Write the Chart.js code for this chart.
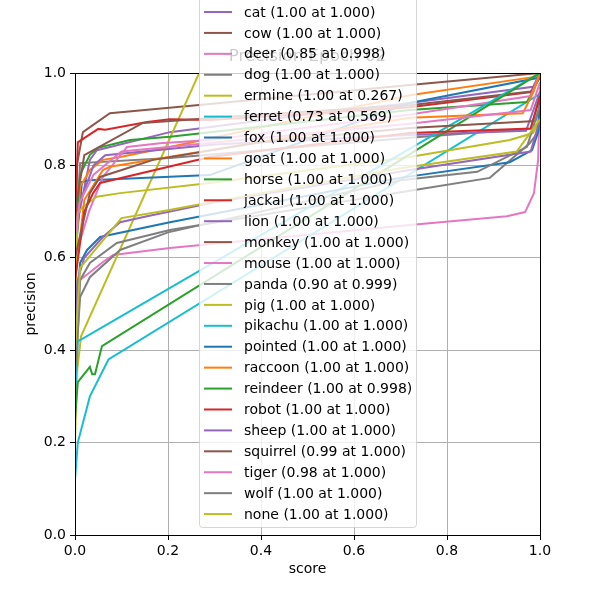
<!DOCTYPE html>
<html>
<head>
<meta charset="utf-8">
<script src="https://cdn.jsdelivr.net/npm/chart.js@4/dist/chart.umd.min.js"></script>
<style>
  body { margin: 0; background: #fff; }
  #graph-canvas { display: block; }
</style>
</head>
<body>
<canvas id="graph-canvas" width="600" height="600"></canvas>
<script>
// precision vs score curves, one [score, precision] list per class
const cat      = [[0, 0.65], [0.032, 0.812], [0.047, 0.833], [0.069, 0.838], [0.204, 0.872], [0.5, 0.91], [0.72, 0.935], [0.985, 0.97], [1.0, 1.0]];
const cow      = [[0, 0.6], [0.004, 0.8], [0.017, 0.872], [0.075, 0.913], [0.29, 0.933], [0.72, 0.974], [1.0, 1.0]];
const deer     = [[0, 0.5], [0.011, 0.552], [0.06, 0.591], [0.082, 0.606], [0.204, 0.621], [0.72, 0.671], [0.929, 0.69], [0.968, 0.699], [0.987, 0.74], [0.996, 0.812], [1.0, 0.97]];
const dog      = [[0, 0.62], [0.011, 0.805], [0.204, 0.816], [0.72, 0.86], [0.98, 0.88], [1.0, 0.95]];
const ermine   = [[0, 0.2], [0.004, 0.35], [0.013, 0.43], [0.267, 1.0]];
const ferret   = [[0, 0.12], [0.006, 0.2], [0.032, 0.3], [0.072, 0.38], [1.0, 0.955]];
const fox      = [[0, 0.6], [0.015, 0.764], [0.032, 0.768], [0.29, 0.779], [0.72, 0.935], [0.994, 0.989], [1.0, 1.0]];
const goat     = [[0, 0.6], [0.011, 0.753], [0.032, 0.79], [0.06, 0.812], [0.097, 0.818], [0.204, 0.84], [0.72, 0.952], [0.985, 0.991], [1.0, 1.0]];
const horse    = [[0, 0.65], [0.011, 0.78], [0.032, 0.823], [0.049, 0.838], [0.118, 0.855], [0.204, 0.862], [0.72, 0.92], [0.972, 0.937], [0.996, 0.985], [1.0, 1.0]];
const jackal   = [[0, 0.65], [0.006, 0.85], [0.05, 0.879], [0.065, 0.877], [0.155, 0.894], [0.204, 0.9], [0.29, 0.898], [0.72, 0.926], [0.985, 0.959], [1.0, 1.0]];
const lion     = [[0, 0.62], [0.011, 0.72], [0.04, 0.8], [0.065, 0.822], [0.3, 0.845], [0.72, 0.866], [0.97, 0.875], [1.0, 0.96]];
const monkey   = [[0, 0.7], [0.02, 0.822], [0.146, 0.892], [0.4, 0.91], [0.72, 0.93], [0.98, 0.96], [1.0, 0.99]];
const mouse    = [[0, 0.6], [0.03, 0.7], [0.06, 0.775], [0.112, 0.84], [0.183, 0.848], [0.29, 0.855], [0.72, 0.91], [0.98, 0.95], [1.0, 1.0]];
const panda    = [[0, 0.3], [0.011, 0.552], [0.032, 0.589], [0.09, 0.632], [0.204, 0.66], [0.7, 0.742], [0.892, 0.773], [0.978, 0.848], [0.996, 0.872], [1.0, 0.9]];
const pig      = [[0, 0.5], [0.006, 0.697], [0.017, 0.71], [0.047, 0.732], [0.097, 0.74], [0.29, 0.762], [0.72, 0.818], [0.935, 0.855], [0.985, 0.87], [0.996, 0.892], [1.0, 0.95]];
const pikachu  = [[0, 0.3], [0.006, 0.42], [0.011, 0.422], [1.0, 1.0]];
const pointed  = [[0, 0.45], [0.011, 0.589], [0.026, 0.617], [0.054, 0.645], [0.204, 0.677], [0.699, 0.773], [0.935, 0.807], [0.983, 0.833], [0.996, 0.872], [1.0, 0.95]];
const raccoon  = [[0, 0.55], [0.02, 0.725], [0.06, 0.79], [0.075, 0.797], [0.29, 0.833], [0.72, 0.903], [0.963, 0.913], [0.985, 0.957], [1.0, 1.0]];
const reindeer = [[0, 0.25], [0.006, 0.331], [0.032, 0.364], [0.037, 0.348], [0.043, 0.348], [0.058, 0.409], [1.0, 1.0]];
const robot    = [[0, 0.55], [0.02, 0.7], [0.039, 0.74], [0.054, 0.762], [0.29, 0.818], [0.72, 0.87], [0.98, 0.88], [1.0, 0.95]];
const sheep    = [[0, 0.45], [0.005, 0.55], [0.02, 0.6], [0.06, 0.645], [0.097, 0.677], [0.155, 0.69], [0.3, 0.72], [0.72, 0.79], [0.98, 0.83], [1.0, 0.9]];
const squirrel = [[0, 0.6], [0.032, 0.74], [0.054, 0.775], [0.168, 0.812], [0.4, 0.85], [0.72, 0.881], [0.99, 0.896], [1.0, 0.93]];
const tiger    = [[0, 0.65], [0.01, 0.72], [0.04, 0.78], [0.1, 0.83], [0.2, 0.84], [0.72, 0.89], [0.98, 0.92], [1.0, 0.98]];
const wolf     = [[0, 0.35], [0.011, 0.515], [0.032, 0.558], [0.097, 0.617], [0.2, 0.655], [0.7, 0.768], [0.865, 0.786], [0.972, 0.84], [1.0, 0.93]];
const none     = [[0, 0.4], [0.011, 0.578], [0.1, 0.686], [0.2, 0.703], [0.29, 0.72], [0.7, 0.794], [0.95, 0.83], [1.0, 0.9]];

const classNames = ['cat', 'cow', 'deer', 'dog', 'ermine', 'ferret', 'fox', 'goat', 'horse', 'jackal', 'lion', 'monkey',
  'mouse', 'panda', 'pig', 'pikachu', 'pointed', 'raccoon', 'reindeer', 'robot', 'sheep', 'squirrel', 'tiger', 'wolf', 'none'];
const curves = [cat, cow, deer, dog, ermine, ferret, fox, goat, horse, jackal, lion, monkey,
  mouse, panda, pig, pikachu, pointed, raccoon, reindeer, robot, sheep, squirrel, tiger, wolf, none];
const bestNotes = ['1.00 at 1.000', '1.00 at 1.000', '0.85 at 0.998', '1.00 at 1.000', '1.00 at 0.267', '0.73 at 0.569',
  '1.00 at 1.000', '1.00 at 1.000', '1.00 at 1.000', '1.00 at 1.000', '1.00 at 1.000', '1.00 at 1.000', '1.00 at 1.000',
  '0.90 at 0.999', '1.00 at 1.000', '1.00 at 1.000', '1.00 at 1.000', '1.00 at 1.000', '1.00 at 0.998', '1.00 at 1.000',
  '1.00 at 1.000', '0.99 at 1.000', '0.98 at 1.000', '1.00 at 1.000', '1.00 at 1.000'];
const xTicks = [0, 0.2, 0.4, 0.6, 0.8, 1.0];
const yTicks = [0, 0.2, 0.4, 0.6, 0.8, 1.0];
const titleText = 'Precision Epoch 02';

// matplotlib tab10, legend starts at the 5th colour
const palette = ['#1f77b4', '#ff7f0e', '#2ca02c', '#d62728', '#9467bd', '#8c564b', '#e377c2', '#7f7f7f', '#bcbd22', '#17becf'];

const font = { family: '"DejaVu Sans"', size: 14 };

const datasets = classNames.map((name, i) => ({
  label: name + ' (' + bestNotes[i] + ')',
  data: curves[i].map(p => ({ x: p[0], y: p[1] })),
  borderColor: palette[(i + 4) % 10],
  backgroundColor: palette[(i + 4) % 10],
  borderWidth: 2,
  pointRadius: 0,
  tension: 0,
  fill: false,
  order: classNames.length - i
}));

// spines, title and the see-through legend box on top of the lines
const overlay = {
  id: 'overlay',
  afterDatasetsDraw(chart) {
    const { ctx, chartArea: a } = chart;
    ctx.save();
    ctx.strokeStyle = '#000';
    ctx.lineWidth = 1;
    ctx.strokeRect(Math.round(a.left) + 0.5, Math.round(a.top) + 0.5, Math.round(a.right - a.left), Math.round(a.bottom - a.top));

    ctx.fillStyle = '#000';
    ctx.font = '16.7px "DejaVu Sans"';
    ctx.textAlign = 'center';
    ctx.textBaseline = 'alphabetic';
    ctx.fillText(titleText, (a.left + a.right) / 2, 61);

    const lx = 199.5, rx = 416.5, by = 527.5, ty = -120;
    ctx.beginPath();
    ctx.roundRect(lx, ty, rx - lx, by - ty, 3);
    ctx.fillStyle = 'rgba(255,255,255,0.8)';
    ctx.fill();
    ctx.strokeStyle = 'rgba(204,204,204,0.8)';
    ctx.stroke();

    ctx.font = '14px "DejaVu Sans"';
    ctx.textAlign = 'left';
    ctx.textBaseline = 'middle';
    chart.data.datasets.forEach((ds, i) => {
      const y = 12 + i * 20.92;
      ctx.strokeStyle = ds.borderColor;
      ctx.lineWidth = 2;
      ctx.beginPath();
      ctx.moveTo(204, y);
      ctx.lineTo(232, y);
      ctx.stroke();
      ctx.fillStyle = '#000';
      ctx.fillText(ds.label, 244, y + 1);
    });
    ctx.restore();
  }
};

new Chart(document.getElementById('graph-canvas'), {
  type: 'line',
  data: { datasets: datasets },
  plugins: [overlay],
  options: {
    responsive: false,
    animation: false,
    layout: { padding: { top: 73, right: 60, left: 0, bottom: 0 } },
    plugins: { legend: { display: false }, tooltip: { enabled: false } },
    scales: {
      x: {
        type: 'linear', min: 0, max: 1,
        afterFit(s) { s.height = 65; },
        afterBuildTicks(s) { s.ticks = xTicks.map(v => ({ value: v })); },
        ticks: { callback: v => v.toFixed(1), font: font, color: '#000', padding: 3, maxRotation: 0, autoSkip: false },
        grid: { color: '#b0b0b0', lineWidth: 1, tickColor: '#000', tickLength: 5 },
        border: { color: '#000', width: 1 },
        title: { display: true, text: 'score', font: font, color: '#000', padding: { top: 0, bottom: 22 } }
      },
      y: {
        type: 'linear', min: 0, max: 1,
        afterFit(s) { s.width = 75; },
        afterBuildTicks(s) { s.ticks = yTicks.map(v => ({ value: v })); },
        ticks: { callback: v => v.toFixed(1), font: font, color: '#000', padding: 4, autoSkip: false },
        grid: { color: '#b0b0b0', lineWidth: 1, tickColor: '#000', tickLength: 5 },
        border: { color: '#000', width: 1 },
        title: { display: true, text: 'precision', font: font, color: '#000', padding: { top: 23, bottom: 0 } }
      }
    }
  }
});
</script>
</body>
</html>
